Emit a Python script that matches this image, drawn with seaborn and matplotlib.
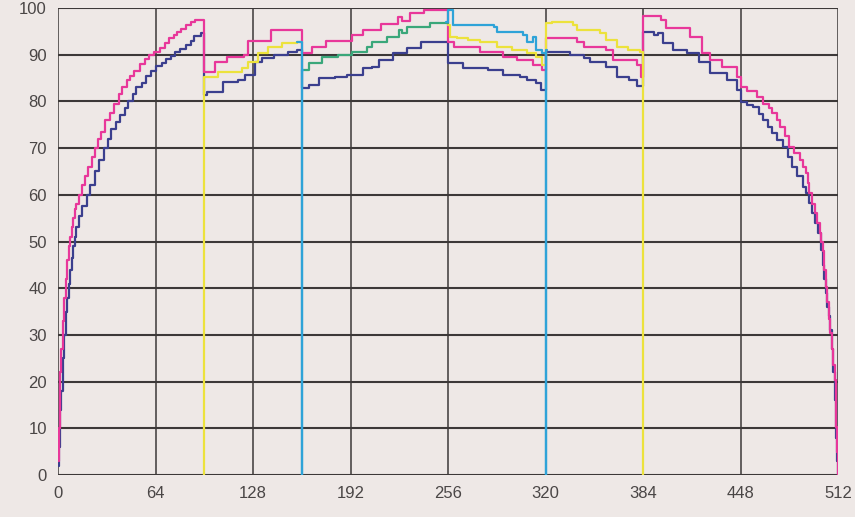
import numpy as np
import pandas as pd
import matplotlib
matplotlib.use("Agg")
import matplotlib.pyplot as plt
import seaborn as sns

# ---- data ----
x_ticks = [0, 64, 128, 192, 256, 320, 384, 448, 512]
y_ticks = [0, 10, 20, 30, 40, 50, 60, 70, 80, 90, 100]

magenta_x = [0, 0.5, 1, 1.5, 2, 3, 4, 5, 6, 7, 8, 9, 10, 11, 12, 14, 16, 18, 20, 22, 24, 26, 28,
             31, 34, 37, 40, 42, 45, 47, 50, 54, 57, 60, 63, 67, 70, 73, 76, 78, 81, 84, 87, 90,
             96, 103, 111, 122, 125, 140,
             160, 167, 176, 193, 200, 212, 223, 226, 231, 240,
             256, 260, 277, 292, 301, 312, 318,
             320, 341, 345, 360, 364, 380, 383,
             384, 396, 399, 415, 423, 428, 436, 446, 448, 452, 459, 463, 467, 469, 472, 474, 477,
             480, 483, 487, 489, 491, 492, 493, 495, 497, 498, 500, 501, 502, 503, 504, 505, 506,
             507, 508, 509, 510, 510.5, 511, 511.5, 512]
magenta_y = [3, 10, 16, 22, 27, 33, 38, 42, 46, 49, 51, 53, 55, 57, 58, 60, 62, 64, 66, 68, 70, 72, 73.5,
             76, 77.5, 79.5, 81.5, 83, 84.5, 85.5, 86.5, 88, 89, 90, 90.5, 91.5, 92.5, 93.5, 94.2, 94.8,
             95.5, 96.4, 97, 97.4,
             86.3, 88.4, 89.5, 90, 93, 95.3,
             90.4, 91.6, 93, 94.2, 95.3, 96.5, 98, 97.2, 99, 99.6,
             92.7, 91.6, 90.6, 89.5, 88.9, 87.8, 86.7,
             93.6, 92.7, 91.6, 91, 88.9, 87.8, 85.2,
             98.3, 97.4, 95.7, 93.8, 90.4, 88.9, 87.4, 85.2, 83, 82.3, 81, 79.5, 78.5, 77.5, 76, 74.5, 72.5,
             70.2, 69, 67.5, 66, 64.7, 62.5, 60.4, 58, 56.1, 54, 51.8, 50, 48, 44, 40.3, 37, 33.5,
             30.4, 27, 23.5, 20.3, 15, 10.3, 5, 0]

navy_x = [0, 0.5, 1, 1.5, 2, 3, 4, 5, 6, 7, 8, 9, 10, 11, 12, 14, 16, 19, 21, 24, 27, 30, 33, 35,
          38, 41, 44, 46, 49, 51, 55, 58, 61, 64, 68, 71, 74, 77, 80, 84, 87, 89, 94,
          96, 98, 108, 118, 123, 129, 134, 142, 151, 157,
          160, 165, 171, 182, 190, 200, 206, 211, 220, 229, 238,
          256, 266, 282, 292, 303, 308, 314, 317,
          320, 336, 345, 349, 360, 367, 375, 380,
          384, 391, 394, 397, 404, 413, 421, 428, 439, 446, 448, 452, 456, 460, 463, 466, 469,
          472, 476, 479, 482, 485, 489, 491, 493, 495, 497, 499, 501, 502, 503, 504, 505, 506,
          507, 508, 509, 510, 511, 511.5, 512]
navy_y = [2, 6, 10, 14, 18, 25, 30, 35, 38, 41, 44, 46.5, 49, 51, 53, 55.5, 57.5, 60, 62, 65, 67.5,
          70, 72, 74, 75.5, 77, 78.5, 80, 81.5, 83, 84, 85.5, 86.5, 87.5, 88.2, 89, 89.8, 90.5,
          91.2, 92, 93, 94, 94.7,
          81.4, 82, 84.2, 84.6, 85.7, 88.4, 89.3, 90, 90.6, 91,
          82.9, 83.5, 85, 85.2, 85.7, 87.1, 87.4, 88.9, 90.4, 91.4, 92.7,
          88.2, 87.1, 86.7, 85.7, 85.2, 84.6, 83.9, 82.4,
          90.6, 89.9, 89.3, 88.4, 87.4, 85.2, 84.6, 83.3,
          94.9, 94.2, 94.6, 92.5, 91, 90.4, 88.4, 86, 84.6, 82.4, 79.9, 79.3, 78.8, 77.3, 76, 74.6,
          73.2, 71.7, 70.2, 68, 66, 64, 61.7, 60.4, 58.2, 56.1, 53.9, 51.8, 48.2, 45, 42, 39, 36,
          34, 31, 27, 22, 16, 8, 3, 0]

yellow_a_x = [96, 96, 105, 121, 125, 131, 138, 147, 157, 160]
yellow_a_y = [0, 85.2, 86.3, 87.1, 88.4, 90.4, 91.6, 92.5, 92.7, 92.7]
yellow_b_x = [256, 257, 262, 269, 277, 288, 298, 308, 314, 318,
              320, 324, 338, 341, 356, 360, 367, 374, 382, 384, 384]
yellow_b_y = [96.4, 93.8, 93.6, 93.1, 92.7, 91.6, 91, 90.4, 89.5, 87.8,
              96.8, 97, 96.4, 95.3, 94.6, 93.1, 91.6, 91, 90.6, 0, 0]

green_x = [160, 165, 173, 184, 193, 203, 206, 216, 224, 226, 229, 244, 256]
green_y = [86.7, 88.2, 89.5, 90, 90.6, 91.6, 92.7, 93.8, 95.3, 94.6, 95.9, 96.8, 97]

cyan_a_x = [157, 160, 160, 161]
cyan_a_y = [92.7, 0, 86.7, 86.7]
cyan_b_x = [255, 256, 259, 286, 288, 305, 308, 312, 314, 318, 320, 320, 321]
cyan_b_y = [97, 99.6, 96.4, 95.9, 94.9, 94.2, 92.7, 93.8, 91, 90.4, 0, 91, 91]

# ---- build long table ----
segments = [
    ("navy", "n", navy_x, navy_y),
    ("magenta", "m", magenta_x, magenta_y),
    ("yellow", "ya", yellow_a_x, yellow_a_y),
    ("yellow", "yb", yellow_b_x, yellow_b_y),
    ("green", "g", green_x, green_y),
    ("cyan", "ca", cyan_a_x, cyan_a_y),
    ("cyan", "cb", cyan_b_x, cyan_b_y),
]
rows = []
for name, seg, xs, ys in segments:
    for xv, yv in zip(xs, ys):
        rows.append({"x": xv, "y": yv, "series": name, "seg": seg})
df = pd.DataFrame(rows)

palette = {"navy": "#3b3f8e", "magenta": "#e8379a", "yellow": "#ece23c",
           "green": "#3aa77a", "cyan": "#2ea3d8"}

sns.set_style("white")
plt.rcParams["font.family"] = ["Liberation Sans", "DejaVu Sans"]

fig = plt.figure(figsize=(8.55, 5.17), dpi=100)
bg = "#eee8e6"
fig.patch.set_facecolor(bg)
ax = fig.add_axes([58 / 855, 1 - 475 / 517, (838 - 58) / 855, (475 - 8) / 517])
ax.set_facecolor(bg)

for xv in x_ticks:
    ax.axvline(xv, color="#3c3838", lw=1.1, zorder=1)
for yv in y_ticks:
    ax.axhline(yv, color="#3c3838", lw=1.5, zorder=1)

sns.lineplot(data=df, x="x", y="y", hue="series", units="seg", estimator=None,
             sort=False, palette=palette, drawstyle="steps-post", lw=1.6,
             hue_order=["navy", "magenta", "yellow", "green", "cyan"],
             legend=False, ax=ax, zorder=3)

ax.set_xlim(0, 512)
ax.set_ylim(0, 100)
ax.set_xticks(x_ticks)
ax.set_yticks(y_ticks)
ax.set_xticklabels([str(v) for v in x_ticks])
ax.set_yticklabels([str(v) for v in y_ticks])
ax.tick_params(axis="both", length=0, labelsize=12, labelcolor="#4a4646", pad=8)
ax.set_xlabel("")
ax.set_ylabel("")
for s in ax.spines.values():
    s.set_visible(False)

fig.savefig("out.png", dpi=100, facecolor=bg)
